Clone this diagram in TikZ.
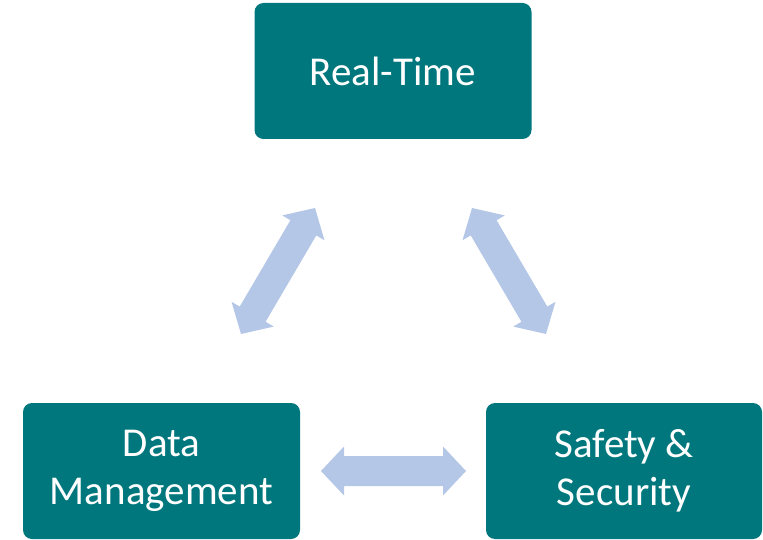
\documentclass[tikz,border=0pt]{standalone}
\usepackage{fontspec}
\setmainfont{Carlito}
\usetikzlibrary{calc}
\definecolor{teal1}{HTML}{00777D}
\definecolor{arrblue}{HTML}{B4C7E7}
\tikzset{
  box/.style={fill=teal1, draw=none, rounded corners=9pt, minimum width=277pt, minimum height=136pt,
    text=white, align=center, font=\fontsize{41}{48}\selectfont, inner sep=0pt},
}
\newcommand{\dblarrow}[2]{%
  \fill[arrblue] (#1)
    -- ($(#1)!23pt!(#2)!24.5pt!90:(#2)$)
    -- ($(#1)!23pt!(#2)!15pt!90:(#2)$)
    -- ($(#2)!23pt!(#1)!15pt!-90:(#1)$)
    -- ($(#2)!23pt!(#1)!24.5pt!-90:(#1)$)
    -- (#2)
    -- ($(#2)!23pt!(#1)!24.5pt!90:(#1)$)
    -- ($(#2)!23pt!(#1)!15pt!90:(#1)$)
    -- ($(#1)!23pt!(#2)!15pt!-90:(#2)$)
    -- ($(#1)!23pt!(#2)!24.5pt!-90:(#2)$)
    -- cycle;}
\begin{document}
\begin{tikzpicture}[x=1pt,y=-1pt]
\useasboundingbox (0,0) rectangle (763,540);
\node[box] (rt) at (393,71) {Real-Time};
\node[box] (dm) at (161.5,471) {Data\\Management};
\node[box, minimum width=276pt] (ss) at (624,471) {Safety \&\\Security};
\coordinate (l1) at (241,334);
\coordinate (l2) at (315,208);
\coordinate (r1) at (472,208);
\coordinate (r2) at (546,334);
\coordinate (b1) at (321,471);
\coordinate (b2) at (466,471);
\dblarrow{l1}{l2}
\dblarrow{r1}{r2}
\dblarrow{b1}{b2}
\end{tikzpicture}
\end{document}
